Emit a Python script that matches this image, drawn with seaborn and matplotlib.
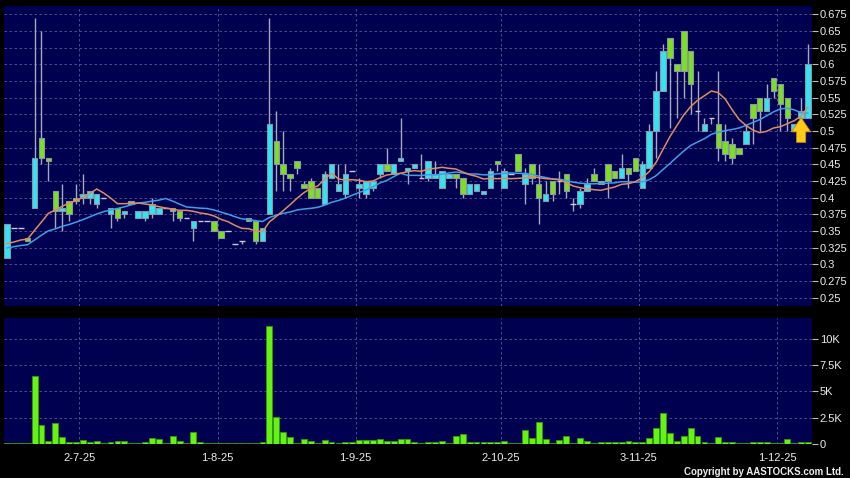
import numpy as np
import pandas as pd
import matplotlib
matplotlib.use("Agg")
import matplotlib.pyplot as plt
import seaborn as sns

# ---------------------------------------------------------------
# daily candles (price), 117 sessions
# ---------------------------------------------------------------
OPEN = [
    0.31, 0.355, 0.355, 0.34, 0.385, 0.49, 0.46, 0.41, 0.38, 0.395,
    0.40, 0.40, 0.40, 0.39, 0.40, 0.375, 0.385, 0.375, 0.395, 0.37,
    0.37, 0.375, 0.375, 0.385, 0.385, 0.38, 0.37, 0.355, 0.365, 0.365,
    0.365, 0.35, 0.35, 0.33, 0.335, 0.37, 0.365, 0.335, 0.375, 0.485,
    0.45, 0.435, 0.455, 0.42, 0.425, 0.415, 0.39, 0.43, 0.41, 0.405,
    0.44, 0.415, 0.405, 0.415, 0.435, 0.45, 0.435, 0.455, 0.44, 0.445,
    0.43, 0.43, 0.43, 0.415, 0.43, 0.435, 0.43, 0.405, 0.41, 0.405,
    0.415, 0.455, 0.415, 0.435, 0.465, 0.42, 0.45, 0.42, 0.395, 0.425,
    0.425, 0.435, 0.39, 0.39, 0.41, 0.435, 0.425, 0.45, 0.44, 0.43,
    0.445, 0.46, 0.415, 0.445, 0.50, 0.56, 0.64, 0.60, 0.65, 0.62,
    0.53, 0.50, 0.52, 0.51, 0.485, 0.48, 0.475, 0.48, 0.54, 0.55,
    0.53, 0.58, 0.57, 0.55, 0.50, 0.52, 0.52,
]
HIGH = [
    0.36, 0.355, 0.355, 0.34, 0.67, 0.65, 0.46, 0.41, 0.42, 0.395,
    0.42, 0.435, 0.41, 0.405, 0.40, 0.385, 0.385, 0.38, 0.395, 0.38,
    0.38, 0.40, 0.385, 0.385, 0.385, 0.38, 0.37, 0.365, 0.365, 0.365,
    0.365, 0.35, 0.35, 0.33, 0.335, 0.37, 0.365, 0.355, 0.67, 0.53,
    0.50, 0.435, 0.455, 0.425, 0.43, 0.415, 0.44, 0.45, 0.45, 0.45,
    0.44, 0.43, 0.425, 0.425, 0.45, 0.475, 0.45, 0.52, 0.445, 0.45,
    0.465, 0.455, 0.455, 0.44, 0.435, 0.435, 0.43, 0.42, 0.42, 0.41,
    0.445, 0.455, 0.445, 0.435, 0.465, 0.445, 0.45, 0.45, 0.425, 0.425,
    0.44, 0.435, 0.40, 0.415, 0.43, 0.445, 0.425, 0.45, 0.44, 0.465,
    0.445, 0.46, 0.455, 0.51, 0.59, 0.63, 0.64, 0.60, 0.65, 0.62,
    0.59, 0.52, 0.52, 0.59, 0.51, 0.49, 0.475, 0.51, 0.54, 0.55,
    0.57, 0.58, 0.57, 0.55, 0.51, 0.55, 0.63,
]
LOW = [
    0.31, 0.355, 0.355, 0.335, 0.385, 0.45, 0.425, 0.355, 0.35, 0.365,
    0.39, 0.39, 0.39, 0.385, 0.40, 0.355, 0.365, 0.37, 0.39, 0.37,
    0.365, 0.37, 0.375, 0.385, 0.365, 0.365, 0.37, 0.335, 0.365, 0.365,
    0.35, 0.34, 0.35, 0.33, 0.33, 0.365, 0.33, 0.335, 0.375, 0.41,
    0.41, 0.41, 0.435, 0.415, 0.40, 0.40, 0.39, 0.43, 0.41, 0.40,
    0.44, 0.40, 0.40, 0.41, 0.43, 0.44, 0.435, 0.455, 0.42, 0.445,
    0.43, 0.425, 0.43, 0.415, 0.43, 0.415, 0.40, 0.405, 0.41, 0.405,
    0.415, 0.44, 0.415, 0.435, 0.44, 0.39, 0.42, 0.36, 0.395, 0.395,
    0.405, 0.40, 0.38, 0.385, 0.41, 0.425, 0.42, 0.40, 0.43, 0.43,
    0.415, 0.44, 0.415, 0.445, 0.46, 0.56, 0.505, 0.52, 0.55, 0.525,
    0.50, 0.50, 0.51, 0.455, 0.455, 0.45, 0.465, 0.48, 0.48, 0.50,
    0.53, 0.55, 0.50, 0.50, 0.50, 0.52, 0.52,
]
CLOSE = [
    0.36, 0.355, 0.355, 0.335, 0.46, 0.46, 0.455, 0.38, 0.385, 0.375,
    0.395, 0.405, 0.41, 0.405, 0.40, 0.385, 0.37, 0.38, 0.39, 0.38,
    0.38, 0.39, 0.385, 0.385, 0.38, 0.37, 0.37, 0.365, 0.365, 0.365,
    0.35, 0.34, 0.35, 0.33, 0.335, 0.365, 0.335, 0.355, 0.51, 0.45,
    0.435, 0.43, 0.445, 0.415, 0.40, 0.40, 0.435, 0.45, 0.42, 0.435,
    0.44, 0.42, 0.425, 0.425, 0.45, 0.44, 0.45, 0.46, 0.445, 0.45,
    0.43, 0.455, 0.435, 0.44, 0.435, 0.43, 0.405, 0.42, 0.42, 0.41,
    0.44, 0.45, 0.44, 0.435, 0.44, 0.435, 0.43, 0.40, 0.405, 0.405,
    0.425, 0.41, 0.39, 0.41, 0.42, 0.425, 0.42, 0.425, 0.43, 0.445,
    0.435, 0.44, 0.45, 0.50, 0.56, 0.62, 0.61, 0.59, 0.59, 0.57,
    0.53, 0.51, 0.52, 0.475, 0.465, 0.46, 0.465, 0.50, 0.52, 0.53,
    0.55, 0.56, 0.54, 0.52, 0.51, 0.53, 0.60,
]
# volume in thousands
VOLUME_K = [
    0.10, 0.02, 0.02, 0.03, 6.45, 1.78, 0.25, 1.94, 0.67, 0.16,
    0.19, 0.32, 0.16, 0.25, 0.02, 0.19, 0.25, 0.25, 0.10, 0.02,
    0.19, 0.54, 0.45, 0.02, 0.76, 0.22, 0.02, 1.11, 0.13, 0.02,
    0.10, 0.02, 0.02, 0.02, 0.03, 0.05, 0.10, 0.13, 11.27, 2.55,
    1.15, 0.67, 0.03, 0.45, 0.25, 0.03, 0.35, 0.13, 0.03, 0.13,
    0.13, 0.35, 0.35, 0.35, 0.45, 0.25, 0.25, 0.48, 0.41, 0.16,
    0.10, 0.16, 0.16, 0.25, 0.05, 0.73, 0.92, 0.16, 0.16, 0.16,
    0.16, 0.13, 0.25, 0.02, 0.03, 1.27, 0.51, 2.10, 0.45, 0.05,
    0.35, 0.76, 0.05, 0.51, 0.25, 0.03, 0.13, 0.19, 0.16, 0.13,
    0.25, 0.16, 0.19, 0.51, 1.50, 2.90, 0.99, 0.22, 0.73, 1.53,
    0.73, 0.19, 0.03, 0.64, 0.13, 0.13, 0.03, 0.03, 0.13, 0.16,
    0.13, 0.03, 0.03, 0.41, 0.03, 0.19, 0.19,
]
# closes before the first visible session (estimated), only used to warm up the averages
PRIOR_CLOSE = [0.315, 0.32, 0.31, 0.32, 0.315, 0.325, 0.32, 0.31, 0.32, 0.325,
               0.33, 0.325, 0.32, 0.33, 0.335, 0.325, 0.33, 0.33, 0.325]

DATE_LABELS = ["2-7-25", "1-8-25", "1-9-25", "2-10-25", "3-11-25", "1-12-25"]
DATE_POS = [10.5, 30.5, 50.5, 71.5, 91.5, 111.5]
PRICE_TICKS = np.arange(0.25, 0.676, 0.025)
VOL_TICKS = [0, 2.5, 5, 7.5, 10]
VOL_LABELS = ["0", "2.5K", "5K", "7.5K", "10K"]

# ---------------------------------------------------------------
# colours
# ---------------------------------------------------------------
BG = "#000000"
PANEL = "#000050"
GRID = "#5a5a8c"
UP = "#33e4f2"
DOWN = "#7ce01e"
VOL_C = "#66f214"
WICK = "#a8a8bc"
TXT = "#ececec"

sns.set_theme(style="dark", rc={
    "figure.facecolor": BG,
    "axes.facecolor": PANEL,
    "axes.edgecolor": PANEL,
    "text.color": TXT,
    "xtick.color": TXT,
    "ytick.color": TXT,
})
plt.rcParams["font.family"] = ["Liberation Sans", "DejaVu Sans"]

df = pd.DataFrame({"open": OPEN, "high": HIGH, "low": LOW, "close": CLOSE, "vol": VOLUME_K})
df["idx"] = np.arange(len(df))
full = pd.Series(PRIOR_CLOSE + CLOSE)
n_pre = len(PRIOR_CLOSE)
df["ma10"] = full.rolling(10).mean().iloc[n_pre:].to_numpy()
df["ma20"] = full.rolling(20).mean().iloc[n_pre:].to_numpy()

fig = plt.figure(figsize=(8.5, 4.78), dpi=100)
ax = fig.add_axes([3.5 / 850, 1 - 306 / 478, 808 / 850, 300 / 478])
vax = fig.add_axes([3.5 / 850, 1 - 443.7 / 478, 808 / 850, 125.4 / 478])

# ---------------- price panel ----------------
ax.vlines(df["idx"], df["low"], df["high"], color=WICK, linewidth=1.0, zorder=2)

up = df[df["close"] > df["open"]]
dn = df[df["close"] < df["open"]]
dj = df[df["close"] == df["open"]]
ax.bar(up["idx"], up["close"] - up["open"], bottom=up["open"], width=0.8,
       color=UP, edgecolor="#8a96a8", linewidth=0.8, zorder=3)
ax.bar(dn["idx"], dn["open"] - dn["close"], bottom=dn["close"], width=0.8,
       color=DOWN, edgecolor="#8a96a8", linewidth=0.8, zorder=3)
ax.hlines(dj["close"], dj["idx"] - 0.4, dj["idx"] + 0.4, color="#c8c8d8",
          linewidth=1.0, zorder=3)

sns.lineplot(data=df, x="idx", y="ma20", ax=ax, color="#3c9fe8", linewidth=1.1, zorder=4)
sns.lineplot(data=df, x="idx", y="ma10", ax=ax, color="#dd8c62", linewidth=1.1, zorder=4)

# arrow under the latest-but-one candle
last = len(df) - 2
ax.annotate("", xy=(last, df["close"].iloc[last] - 0.01), xytext=(last, df["close"].iloc[last] - 0.047),
            arrowprops=dict(arrowstyle="simple,head_width=1.15,head_length=0.85,tail_width=0.55",
                            fc="#ffcc1a", ec="#c88a00", lw=0.6, shrinkA=0, shrinkB=0),
            zorder=6)

ax.set_xlim(-0.5, len(df) - 0.5)
ax.set_ylim(0.2375, 0.6875)
ax.set_yticks(PRICE_TICKS)
ax.set_yticklabels([f"{v:g}" for v in np.round(PRICE_TICKS, 3)])
ax.yaxis.tick_right()
ax.set_xticks(DATE_POS)
ax.set_xticklabels([])
ax.tick_params(axis="x", length=0)
ax.tick_params(axis="y", length=4, width=0.8, pad=2, labelsize=8, color="#bbbbbb")
ax.grid(True, color=GRID, linestyle=(0, (3, 3)), linewidth=0.6)
ax.set_xlabel("")
ax.set_ylabel("")
for s in ax.spines.values():
    s.set_visible(False)

# ---------------- volume panel ----------------
sns.barplot(data=df, x="idx", y="vol", ax=vax, native_scale=True, color=VOL_C,
            saturation=1, width=0.85, edgecolor="#2f9a0a", linewidth=0.6,
            errorbar=None, zorder=3)
vax.set_xlim(-0.5, len(df) - 0.5)
vax.set_ylim(0, 12)
vax.set_yticks(VOL_TICKS)
vax.set_yticklabels(VOL_LABELS)
vax.yaxis.tick_right()
vax.set_xticks(DATE_POS)
vax.set_xticklabels(DATE_LABELS)
vax.tick_params(axis="x", length=2.5, width=0.8, pad=4, labelsize=8, color="#bbbbbb")
vax.tick_params(axis="y", length=4, width=0.8, pad=2, labelsize=8, color="#bbbbbb")
vax.grid(True, color=GRID, linestyle=(0, (3, 3)), linewidth=0.6)
vax.set_xlabel("")
vax.set_ylabel("")
for s in vax.spines.values():
    s.set_visible(False)

fig.text(0.993, 0.0125, "Copyright by AASTOCKS.com Ltd.", ha="right", va="center",
         fontsize=7, fontweight="bold", color=TXT)

fig.savefig("out.png", dpi=100, facecolor=BG)
